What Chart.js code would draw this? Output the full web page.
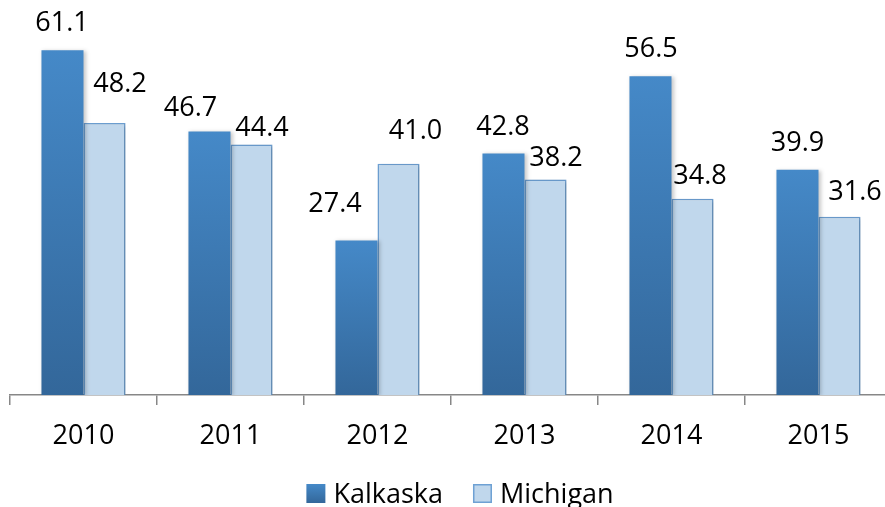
<!DOCTYPE html>
<html>
<head>
<meta charset="utf-8">
<script src="https://cdn.jsdelivr.net/npm/chart.js@4/dist/chart.umd.min.js"></script>
<style>
  html, body { margin: 0; padding: 0; background: #ffffff; overflow: hidden; }
  #wrap { position: relative; width: 892px; height: 507px; }
</style>
</head>
<body>
<div id="wrap"><canvas id="c"></canvas></div>
<script>
// ---- data ----
const categories = ['2010', '2011', '2012', '2013', '2014', '2015'];
const kalkaska = [61.1, 46.7, 27.4, 42.8, 56.5, 39.9];
const michigan = [48.2, 44.4, 41.0, 38.2, 34.8, 31.6];
const seriesNames = ['Kalkaska', 'Michigan'];

// ---- label placement styling (relative nudges, px) ----
const labelShiftX = [
  [-0.5, -19, -21.5, -0.5, 0.5, 0],
  [15.5, 10.5, 17, 10.5, 7.5, 15.5]
];
const labelRaise = [
  [19, 15, 28, 18, 19, 19],
  [31, 8, 25, 13, 15, 17]
];

const FONT = '"Open Sans", "DejaVu Sans", sans-serif';
const FONT_SIZE = 27;

function kalkGradient(ctx, yScale, value) {
  const y0 = yScale.getPixelForValue(0);
  const y1 = yScale.getPixelForValue(value);
  const g = ctx.createLinearGradient(0, y1, 0, y0);
  g.addColorStop(0, '#4589C8');
  g.addColorStop(1, '#33679A');
  return g;
}

const valueLabels = {
  id: 'valueLabels',
  afterDatasetsDraw(chart) {
    const ctx = chart.ctx;
    ctx.save();
    ctx.font = FONT_SIZE + 'px ' + FONT;
    ctx.fillStyle = '#000000';
    ctx.textAlign = 'center';
    ctx.textBaseline = 'alphabetic';
    chart.data.datasets.forEach((ds, di) => {
      const meta = chart.getDatasetMeta(di);
      meta.data.forEach((bar, i) => {
        const v = ds.data[i];
        ctx.fillText(v.toFixed(1), bar.x + labelShiftX[di][i], bar.y - labelRaise[di][i]);
      });
    });
    ctx.restore();
  }
};

const customLegend = {
  id: 'customLegend',
  afterDraw(chart) {
    const ctx = chart.ctx;
    ctx.save();
    ctx.font = FONT_SIZE + 'px ' + FONT;
    ctx.textBaseline = 'alphabetic';
    ctx.textAlign = 'left';
    const box = 19, gap = 8, spacing = 30;
    const widths = chart.data.datasets.map(d => ctx.measureText(d.label).width);
    const total = widths.reduce((a, w) => a + box + gap + w, 0) + spacing * (widths.length - 1);
    const center = (chart.chartArea.left + chart.chartArea.right) / 2 + 9;
    let x = center - total / 2;
    const baseline = 503;
    chart.data.datasets.forEach((d, di) => {
      const top = baseline - box;
      if (di === 0) {
        const g = ctx.createLinearGradient(0, top, 0, top + box);
        g.addColorStop(0, '#4589C8');
        g.addColorStop(1, '#33679A');
        ctx.fillStyle = g;
        ctx.fillRect(x, top, box, box);
      } else {
        ctx.fillStyle = d.backgroundColor;
        ctx.fillRect(x, top, box, box);
        ctx.strokeStyle = d.borderColor;
        ctx.lineWidth = 1.5;
        ctx.strokeRect(x + 0.75, top + 0.75, box - 1.5, box - 1.5);
      }
      ctx.fillStyle = '#000000';
      ctx.fillText(d.label, x + box + gap, baseline);
      x += box + gap + widths[di] + spacing;
    });
    ctx.restore();
  }
};

const barShadow = {
  id: 'barShadow',
  beforeDatasetDraw(chart, args) {
    const ctx = chart.ctx;
    ctx.save();
    ctx.shadowColor = 'rgba(0,0,0,0.22)';
    ctx.shadowBlur = 4;
    ctx.shadowOffsetX = 2;
    ctx.shadowOffsetY = 1;
  },
  afterDatasetDraw(chart) {
    chart.ctx.restore();
  }
};

new Chart(document.getElementById('c'), {
  type: 'bar',
  data: {
    labels: categories,
    datasets: [
      {
        label: seriesNames[0],
        data: kalkaska,
        backgroundColor: (c) => {
          const chart = c.chart;
          if (!chart.chartArea || c.type !== 'data') return '#4589C8';
          return kalkGradient(chart.ctx, chart.scales.y, c.raw);
        },
        borderWidth: 0,
        categoryPercentage: 0.572,
        barPercentage: 1.0
      },
      {
        label: seriesNames[1],
        data: michigan,
        backgroundColor: '#C0D7EC',
        borderColor: '#6EA1D4',
        borderWidth: 1.5,
        categoryPercentage: 0.572,
        barPercentage: 1.0
      }
    ]
  },
  options: {
    responsive: true,
    maintainAspectRatio: false,
    animation: false,
    layout: { padding: { left: 10, right: 0, top: 0, bottom: 0 } },
    plugins: {
      legend: { display: false },
      tooltip: { enabled: false }
    },
    scales: {
      y: {
        display: false,
        min: 0,
        max: 70
      },
      x: {
        offset: true,
        grid: {
          display: true,
          offset: true,
          drawOnChartArea: false,
          drawTicks: true,
          tickLength: 10,
          color: '#878787',
          lineWidth: 1.5
        },
        border: { display: true, color: '#878787', width: 1.5 },
        ticks: {
          color: '#000000',
          font: { family: FONT, size: FONT_SIZE },
          padding: 15,
          maxRotation: 0,
          autoSkip: false
        },
        afterFit(scale) { scale.height = 112; }
      }
    }
  },
  plugins: [barShadow, valueLabels, customLegend]
});
</script>
</body>
</html>
